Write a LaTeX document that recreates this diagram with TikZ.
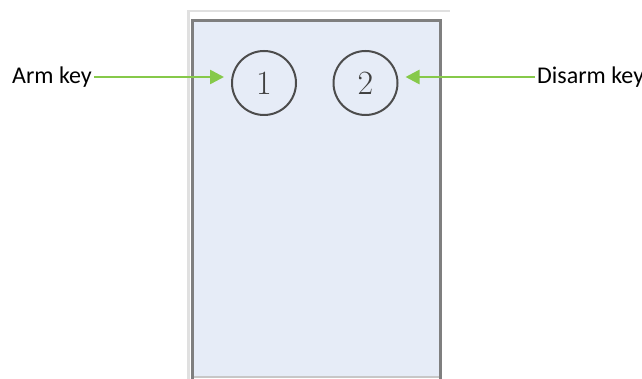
\documentclass[tikz,border=0pt]{standalone}
\usepackage{fontspec}
\usetikzlibrary{arrows.meta}
\newfontfamily\labelfont{Carlito}
\definecolor{panelfill}{HTML}{E6ECF7}
\definecolor{panelrim}{HTML}{7F7F7F}
\definecolor{keygreen}{HTML}{86C94A}

\begin{document}
\begin{tikzpicture}[x=1pt, y=-1pt, line cap=butt,
    keyring/.style={circle, draw=black!70, line width=2pt, minimum size=64pt,
      inner sep=0pt, text=black!75, font=\fontsize{34}{34}\selectfont},
    keylabel/.style={inner sep=2pt, font=\labelfont\fontsize{24}{24}\selectfont},
    keyarrow/.style={keygreen, line width=2.6pt, -{Triangle[length=14pt,width=14pt]}}]
  \useasboundingbox (0,0) rectangle (642,379);
  % shadow frame
  \draw[black!12, line width=2.5pt] (188.5,379) -- (188.5,11) -- (450,11);
  % panel
  \fill[panelfill] (192.5,20.5) rectangle (440.5,377);
  \draw[black!22, line width=2pt] (192.5,377) -- (440.5,377);
  \draw[panelrim, line width=3.5pt] (192.5,379) -- (192.5,20.5) -- (440.5,20.5) -- (440.5,379);
  % keys
  \foreach \k/\x in {1/264,2/365.5} {
    \node[keyring] (key\k) at (\x,83) {\k};
  }
  % labels
  \node[keylabel, anchor=east] (armlbl) at (94,77) {Arm key};
  \node[keylabel, anchor=west] (disarmlbl) at (535,77) {Disarm key};
  \draw[keyarrow, shorten >=7pt] (armlbl.east) -- (key1.west |- armlbl.east);
  \draw[keyarrow, shorten >=7pt] (disarmlbl.west) -- (key2.east |- disarmlbl.west);
\end{tikzpicture}
\end{document}
